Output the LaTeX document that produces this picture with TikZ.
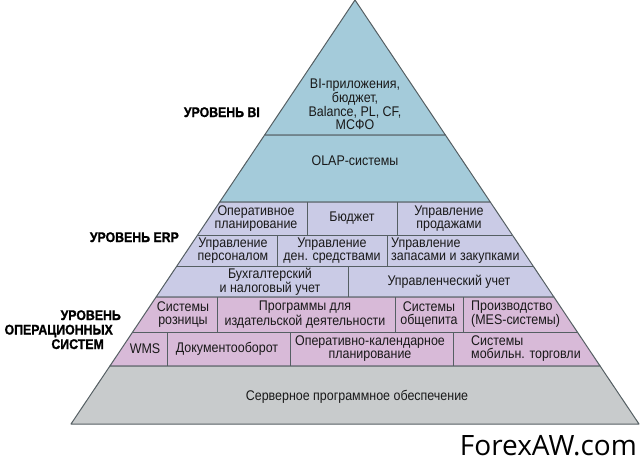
\documentclass[tikz,border=0pt]{standalone}
\usepackage{fontspec}
\usepackage{tikz}
\newfontfamily\cellfont[FakeStretch=0.89]{Liberation Sans}
\newfontfamily\levelfont[FakeStretch=0.88, BoldFeatures={FakeBold=1.2}]{Liberation Sans}
\newfontfamily\markfont{Open Sans}
\definecolor{bicolor}{HTML}{A4CBDA}
\definecolor{erpcolor}{HTML}{CACBE6}
\definecolor{opscolor}{HTML}{D8BAD8}
\definecolor{servercolor}{HTML}{C8CBCC}
\definecolor{edgegray}{HTML}{555F63}
\tikzset{
  band/.style={draw=edgegray, line width=1pt, line join=round},
  cell/.style={font=\cellfont\fontsize{14}{13}\selectfont, text=black!90, align=center, inner sep=0pt},
  level/.style={font=\levelfont\bfseries\fontsize{14}{15}\selectfont, text=black, inner sep=0pt, anchor=base east},
}
\begin{document}
\begin{tikzpicture}[x=1pt, y=-1pt]
    \useasboundingbox (0,0) rectangle (640,467);

    % Draw the bands
    \draw[band, fill=bicolor] (355,0) -- (445.4,135) -- (264.6,135) -- cycle;
    \draw[band, fill=bicolor] (264.6,135) -- (445.4,135) -- (490.3,202) -- (219.7,202) -- cycle;
    \draw[band, fill=erpcolor] (219.7,202) -- (490.3,202) -- (553.9,297) -- (156.1,297) -- cycle;
    \draw[band, fill=opscolor] (156.1,297) -- (553.9,297) -- (600.1,366) -- (109.9,366) -- cycle;
    \draw[band, fill=servercolor] (109.9,366) -- (600.1,366) -- (639,424) -- (71,424) -- cycle;

    % Split rows
    \draw[band] (197.6,235) -- (512.4,235);
    \draw[band] (176.8,266) -- (533.2,266);
    \draw[band] (132.6,332) -- (577.4,332);

    % Split cells
    \draw[band] (307,202) -- (307,235);
    \draw[band] (397,202) -- (397,235);
    \draw[band] (277,235) -- (277,266);
    \draw[band] (387,235) -- (387,266);
    \draw[band] (348,266) -- (348,297);
    \draw[band] (217,297) -- (217,332);
    \draw[band] (395,297) -- (395,332);
    \draw[band] (463,297) -- (463,332);
    \draw[band] (167,332) -- (167,366);
    \draw[band] (290,332) -- (290,366);
    \draw[band] (453,332) -- (453,366);

    % Add cell texts
    \node[cell, font=\cellfont\fontsize{14}{11}\selectfont] (bi) at (355,104) {BI-приложения,\\бюджет,\\Balance, PL, CF,\\МСФО};
    \node[cell] (olap) at (355,161) {OLAP-системы};
    \node[cell] (opplan) at (256,218.5) {Оперативное\\планирование};
    \node[cell] (budget) at (352,218.5) {Бюджет};
    \node[cell] (sales) at (449,218.5) {Управление\\продажами};
    \node[cell] (staff) at (233,250.5) {Управление\\персоналом};
    \node[cell] (cash) at (332,250.5) {Управление\\ден. средствами};
    \node[cell, anchor=west, align=left] (stock) at (391,250.5) {Управление\\запасами и закупками};
    \node[cell] (acct) at (270,281.5) {Бухгалтерский\\и налоговый учет};
    \node[cell] (mgmt) at (449,282) {Управленческий учет};
    \node[cell] (retail) at (183,314.5) {Системы\\розницы};
    \node[cell] (publish) at (305,314.5) {Программы для\\издательской деятельности};
    \node[cell] (catering) at (429,314.5) {Системы\\общепита};
    \node[cell, anchor=west, align=left] (mes) at (471,314.5) {Производство\\(MES-системы)};
    \node[cell] (wms) at (145,348.5) {WMS};
    \node[cell] (docs) at (227,348.5) {Документооборот};
    \node[cell] (sched) at (370,349) {Оперативно-календарное\\планирование};
    \node[cell, anchor=west, align=left] (mobile) at (471,349) {Системы\\мобильн. торговли};
    \node[cell] (server) at (357,397) {Серверное программное обеспечение};

    % Add level labels
    \node[level] (lvlbi) at (260,117) {УРОВЕНЬ BI};
    \node[level] (lvlerp) at (179,242) {УРОВЕНЬ ERP};
    \node[level] (lvlopsa) at (121,320) {УРОВЕНЬ};
    \node[level] (lvlopsb) at (113,334.5) {ОПЕРАЦИОННЫХ};
    \node[level] (lvlopsc) at (104,349) {СИСТЕМ};

    \node[font=\markfont\fontsize{28}{28}\selectfont, anchor=base east, inner sep=0pt] (mark) at (637,455) {ForexAW.com};
\end{tikzpicture}
\end{document}
